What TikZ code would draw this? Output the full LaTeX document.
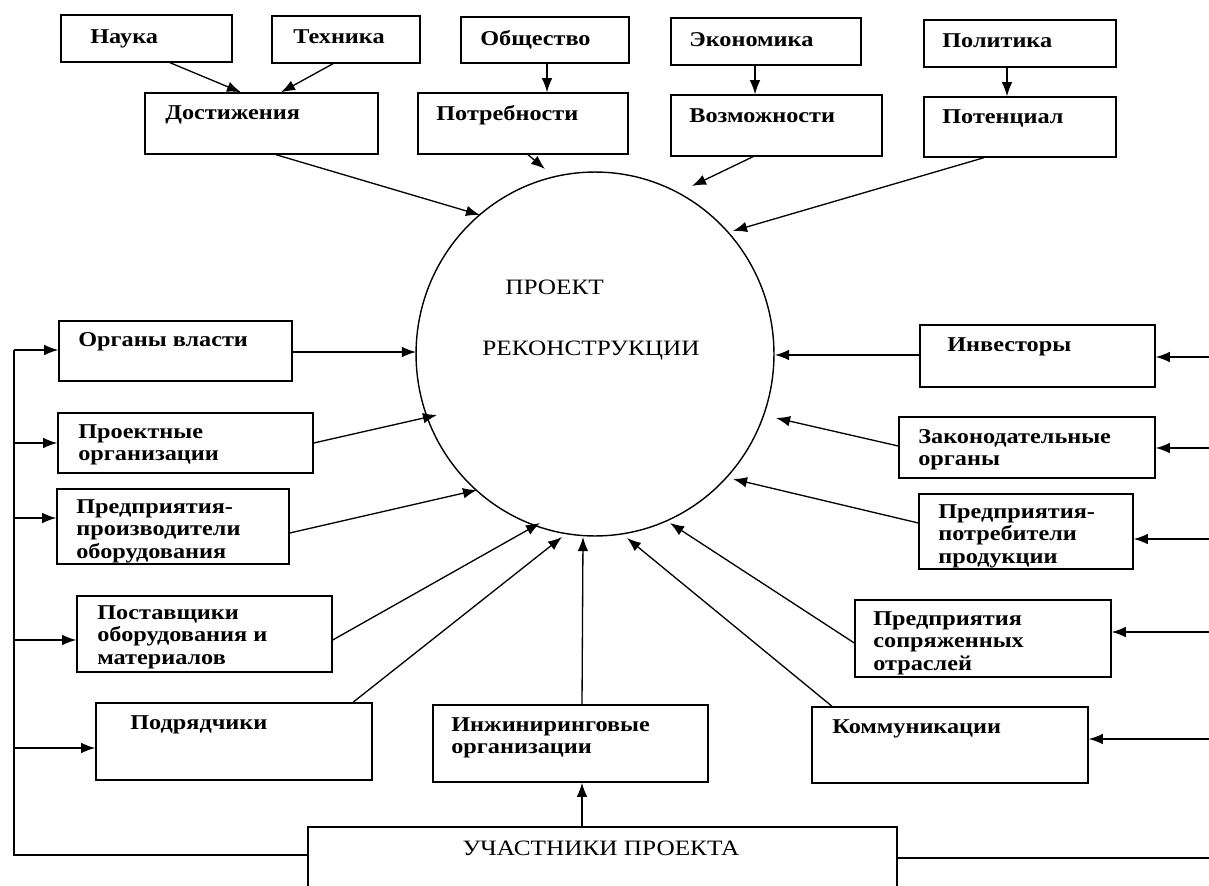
\documentclass[tikz,border=0pt]{standalone}
\usepackage{fontspec}
\setmainfont{Liberation Serif}[FakeStretch=1.15]
\usetikzlibrary{shapes.geometric,arrows.meta,fit}

\tikzset{
  blk/.style={draw,line width=.8pt,inner sep=0pt},
  lbl/.style={anchor=north west,inner sep=0pt,align=left,font=\fontsize{12}{12.8}\selectfont\bfseries},
  ttl/.style={inner sep=0pt,font=\fontsize{12.5}{13}\selectfont},
  con/.style={line width=.75pt,-{Latex[length=8pt,width=6pt]}},
  ln/.style={line width=.75pt}
}

\begin{document}
\begin{tikzpicture}[x=.02cm,y=-.02cm]
\useasboundingbox (0,0) rectangle (1209,885);
\clip (0,0) rectangle (1209,885);

% top row
\node[blk,fit={(61,15) (232,62)}] (nauka) {};
\node[blk,fit={(272,16) (420,63)}] (tehnika) {};
\node[blk,fit={(461,17) (629,63)}] (obshch) {};
\node[blk,fit={(671,18) (861,65)}] (ekon) {};
\node[blk,fit={(924,20) (1116,67)}] (polit) {};
\node[lbl] (nauka-t) at (90,29) {Наука};
\node[lbl] (tehnika-t) at (293,29) {Техника};
\node[lbl] (obshch-t) at (480,30) {Общество};
\node[lbl] (ekon-t) at (689,32) {Экономика};
\node[lbl] (polit-t) at (942,33) {Политика};

% second row
\node[blk,fit={(145,93) (378,154)}] (dostizh) {};
\node[blk,fit={(418,93) (628,154)}] (potreb) {};
\node[blk,fit={(671,95) (882,156)}] (vozm) {};
\node[blk,fit={(924,97) (1116,157)}] (potenc) {};
\node[lbl] (dostizh-t) at (165,105) {Достижения};
\node[lbl] (potreb-t) at (436,105) {Потребности};
\node[lbl] (vozm-t) at (689,108) {Возможности};
\node[lbl] (potenc-t) at (942,109) {Потенциал};

% the project
\node[draw,ellipse,line width=.8pt,inner sep=0pt,minimum width=7.16cm,minimum height=7.28cm] (proj) at (595,354) {};
\node[ttl,anchor=west] (proj-t1) at (505,287) {ПРОЕКТ};
\node[ttl,anchor=west] (proj-t2) at (482,351) {РЕКОНСТРУКЦИИ};

% left column
\node[blk,fit={(59,321) (292,381)}] (organy) {};
\node[blk,fit={(58,413) (313,473)}] (proekt) {};
\node[blk,fit={(57,489) (289,564)}] (proizv) {};
\node[blk,fit={(77,596) (332,672)}] (postav) {};
\node[blk,fit={(96,703) (372,780)}] (podr) {};
\node[lbl] (organy-t) at (78,332) {Органы власти};
\node[lbl] (proekt-t) at (78,424) {Проектные\\организации};
\node[lbl] (proizv-t) at (76,499) {Предприятия-\\производители\\оборудования};
\node[lbl] (postav-t) at (97,605) {Поставщики\\оборудования и\\материалов};
\node[lbl] (podr-t) at (130,715) {Подрядчики};

% bottom and right column
\node[blk,fit={(433,705) (708,782)}] (inzh) {};
\node[blk,fit={(812,707) (1088,783)}] (kommun) {};
\node[blk,fit={(855,600) (1111,677)}] (sopr) {};
\node[blk,fit={(919,494) (1133,569)}] (potrebit) {};
\node[blk,fit={(899,417) (1155,478)}] (zakon) {};
\node[blk,fit={(920,325) (1155,387)}] (invest) {};
\node[lbl] (inzh-t) at (451,717) {Инжиниринговые\\организации};
\node[lbl] (kommun-t) at (832,719) {Коммуникации};
\node[lbl] (sopr-t) at (873,611) {Предприятия\\сопряженных\\отраслей};
\node[lbl] (potrebit-t) at (938,504) {Предприятия-\\потребители\\продукции};
\node[lbl] (zakon-t) at (918,429) {Законодательные\\органы};
\node[lbl] (invest-t) at (947,337) {Инвесторы};

\node[blk,fit={(308,827) (897,910)}] (uchast) {};
\node[ttl] (uchast-t) at (601,848) {УЧАСТНИКИ ПРОЕКТА};

% arrow ends at the project
\coordinate (e1) at (480,215);
\coordinate (e2) at (545,169);
\coordinate (e3) at (692,186);
\coordinate (e4) at (733,231);
\coordinate (e5) at (416,352);
\coordinate (e6) at (437,415);
\coordinate (e7) at (477,490);
\coordinate (e8) at (540,523);
\coordinate (e9) at (562,537);
\coordinate (e10) at (583,537);
\coordinate (e11) at (627,538);
\coordinate (e12) at (670,523);
\coordinate (e13) at (733,479);
\coordinate (e14) at (776,418);
\coordinate (e15) at (775,355);
\coordinate (lbus) at (14,350);
\coordinate (rbus) at (1215,350);

\draw[con] (nauka.south -| 170,0) -- (dostizh.north -| 241,0);
\draw[con] (tehnika.south -| 333,0) -- (dostizh.north -| 281,0);
\draw[con] (obshch.south -| 547,0) -- (potreb.north -| 547,0);
\draw[con] (ekon.south -| 755,0) -- (vozm.north -| 755,0);
\draw[con] (polit.south -| 1007,0) -- (potenc.north -| 1007,0);

\draw[con] (dostizh.south -| 276,0) -- (e1);
\draw[con] (potreb.south -| 528,0) -- (e2);
\draw[con] (vozm.south -| 753,0) -- (e3);
\draw[con] (potenc.south -| 984,0) -- (e4);
\draw[con] (organy.east |- 0,352) -- (e5);
\draw[con] (proekt.east |- 0,443) -- (e6);
\draw[con] (proizv.east |- 0,533) -- (e7);
\draw[con] (postav.east |- 0,640) -- (e8);
\draw[con] (podr.north -| 353,0) -- (e9);
\draw[con] (inzh.north -| 582,0) -- (e10);
\draw[con] (kommun.north -| 832,0) -- (e11);
\draw[con] (sopr.west |- 0,643) -- (e12);
\draw[con] (potrebit.west |- 0,523) -- (e13);
\draw[con] (zakon.west |- 0,446) -- (e14);
\draw[con] (invest.west |- 0,355) -- (e15);
\draw[con] (uchast.north -| 582,0) -- (inzh.south -| 582,0);

\draw[ln] (lbus) -- (lbus |- 0,855) -- (uchast.west |- 0,855);
\draw[ln] (uchast.east |- 0,858) -- (rbus |- 0,858);
\foreach \b/\y in {organy/350,proekt/443,proizv/518,postav/640,podr/748}
  \draw[con] (lbus |- 0,\y) -- (\b.west |- 0,\y);
\foreach \b/\y in {invest/357,zakon/448,potrebit/539,sopr/632,kommun/739}
  \draw[con] (rbus |- 0,\y) -- (\b.east |- 0,\y);
\end{tikzpicture}
\end{document}
